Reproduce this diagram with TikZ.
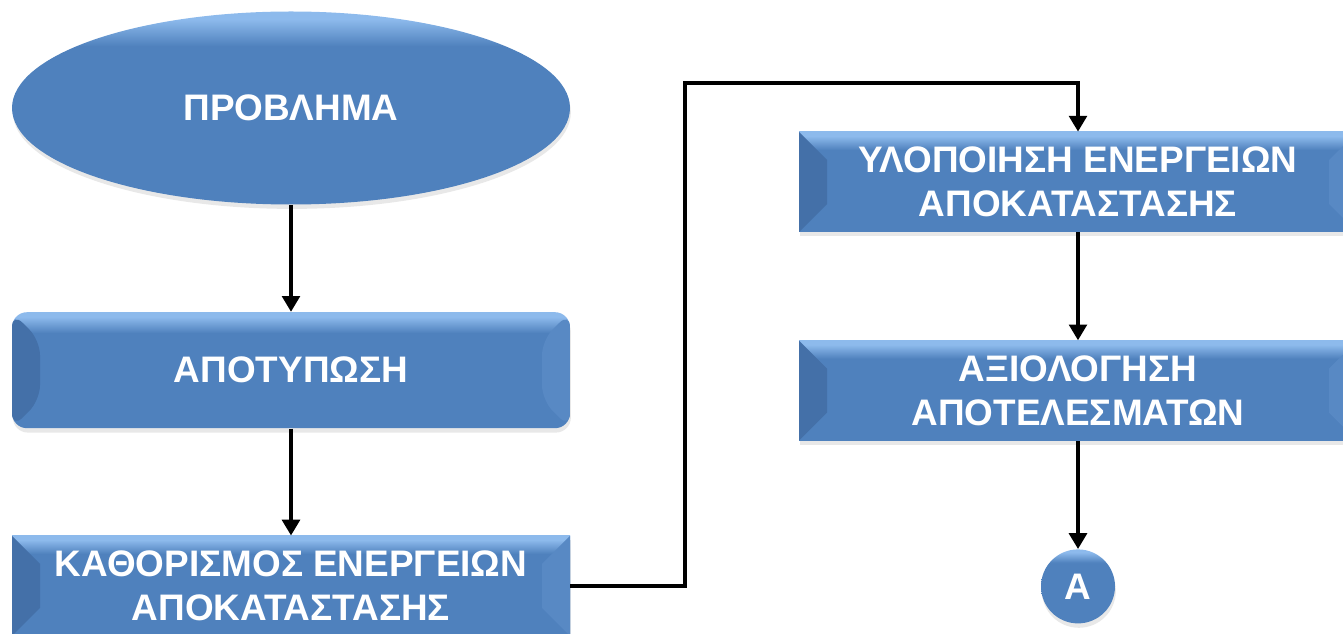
\documentclass[tikz,border=0pt]{standalone}
\usepackage{fontspec}
\setmainfont{Liberation Sans}
\usepackage{xcolor}
\usepackage{tikz}
\usetikzlibrary{positioning, calc, shapes.geometric, shadows, arrows.meta}
\definecolor{stepblue}{RGB}{79, 129, 189}
\definecolor{bevellight}{RGB}{141, 186, 236}
\definecolor{beveldark}{RGB}{68, 112, 168}
\pgfdeclareverticalshading{bevelshade}{100bp}{color(0bp)=(stepblue); color(66bp)=(stepblue); color(73bp)=(bevellight); color(100bp)=(bevellight)}

\begin{document}
\begin{tikzpicture}[
			node distance=2.14cm,
			font=\fontsize{21}{25}\selectfont\bfseries,
			base/.style={shade, shading=bevelshade, text=white, align=center, inner sep=0pt, drop shadow={opacity=0.18, shadow xshift=0.5pt, shadow yshift=-2.5pt}},
			bevel/.style={path picture={
				\fill[beveldark] (path picture bounding box.north west) -- ++(0.56,-0.56) -- ($(path picture bounding box.south west)+(0.56,0.56)$) -- (path picture bounding box.south west) -- cycle;
				\fill[stepblue!85!bevellight] (path picture bounding box.north east) -- ++(-0.56,-0.56) -- ($(path picture bounding box.south east)+(-0.56,0.56)$) -- (path picture bounding box.south east) -- cycle;}},
			stepbox/.style={base, bevel, rectangle, minimum width=11.16cm, minimum height=2cm},
			startoval/.style={base, ellipse, minimum width=11.16cm, minimum height=3.86cm},
			connector/.style={base, circle, minimum size=1.48cm},
			arrow/.style={line width=2.2pt, -{Triangle[length=9pt, width=10pt]}, draw=black}
		]
		\useasboundingbox (0,0) rectangle (26.86,-12.68);

		\node (problem) [startoval] at (5.82,-2.16) {ΠΡΟΒΛΗΜΑ};
		\node (imprint) [stepbox, rounded corners=0.3cm, minimum height=2.32cm, below=of problem] {ΑΠΟΤΥΠΩΣΗ};
		\node (define) [stepbox, below=of imprint] {ΚΑΘΟΡΙΣΜΟΣ ΕΝΕΡΓΕΙΩΝ\\ΑΠΟΚΑΤΑΣΤΑΣΗΣ};

		\node (implement) [stepbox] at (21.56,-3.64) {ΥΛΟΠΟΙΗΣΗ ΕΝΕΡΓΕΙΩΝ\\ΑΠΟΚΑΤΑΣΤΑΣΗΣ};
		\node (evaluate) [stepbox, below=2.16cm of implement] {ΑΞΙΟΛΟΓΗΣΗ\\ΑΠΟΤΕΛΕΣΜΑΤΩΝ};
		\node (nextpage) [connector, below=2.16cm of evaluate] {A};

		\coordinate (bend) at (13.7,-1.66);

		\draw[arrow] (problem) -- (imprint);
		\draw[arrow] (imprint) -- (define);
		\draw[arrow] (define.east) -| (bend) -| (implement.north);
		\draw[arrow] (implement) -- (evaluate);
		\draw[arrow] (evaluate) -- (nextpage);

	\end{tikzpicture}
\end{document}
